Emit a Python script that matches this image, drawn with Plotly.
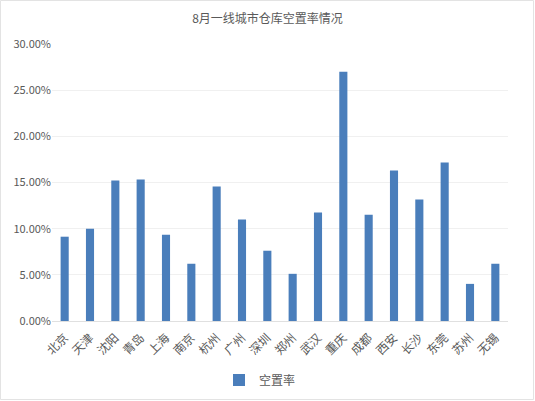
import plotly.graph_objects as go

cities = ["北京", "天津", "沈阳", "青岛", "上海", "南京", "杭州", "广州", "深圳",
          "郑州", "武汉", "重庆", "成都", "西安", "长沙", "东莞", "苏州", "无锡"]
vacancy = [0.0913, 0.1000, 0.1522, 0.1533, 0.0935, 0.0620, 0.1457, 0.1098, 0.0761,
           0.0511, 0.1174, 0.2700, 0.1152, 0.1630, 0.1315, 0.1717, 0.0402, 0.0620]
y_ticks = [0, 0.05, 0.10, 0.15, 0.20, 0.25, 0.30]

W, H = 535, 401
ml, mr, mt, mb = 52, 27, 44, 80
pw, ph = W - ml - mr, H - mt - mb

font_family = "Noto Sans CJK SC, Noto Sans, sans-serif"
text_grey = "#595959"

fig = go.Figure(go.Bar(
    x=cities,
    y=vacancy,
    name="空置率",
    marker=dict(color="#4a7ebb", line=dict(width=0)),
    showlegend=True,
))

fig.update_layout(
    width=W, height=H,
    autosize=False,
    margin=dict(l=ml, r=mr, t=mt, b=mb, autoexpand=False),
    paper_bgcolor="white",
    plot_bgcolor="white",
    font=dict(family=font_family, color=text_grey, size=11),
    title=dict(text="8月一线城市仓库空置率情况", x=0.5, xanchor="center",
               y=1 - 19 / H, yanchor="middle",
               font=dict(size=12, color=text_grey)),
    bargap=0.68,
    # plotly's legend swatch takes more room than Excel's, so nudge it left
    legend=dict(orientation="h", x=0.5 - 20 / pw, xanchor="center",
                y=-(380 - (H - mb)) / ph, yanchor="middle",
                itemwidth=30,
                font=dict(size=12, color=text_grey)),
    shapes=[dict(type="rect", xref="paper", yref="paper",
                 x0=-(ml - 0.5) / pw, x1=1 + (mr - 1.5) / pw,
                 y0=-(mb - 1.5) / ph, y1=1 + (mt - 0.5) / ph,
                 line=dict(color="#e3e3e3", width=1))],
)

fig.update_xaxes(
    automargin=False,
    tickangle=-45,
    tickfont=dict(size=12, color=text_grey),
    showline=True, linecolor="#e0e0e0", linewidth=1,
    ticks="outside", ticklen=4, tickcolor="rgba(0,0,0,0)",
)
fig.update_yaxes(
    automargin=False,
    range=[0, 0.30],
    tickvals=y_ticks,
    tickformat=".2%",
    tickfont=dict(size=11, color=text_grey),
    showgrid=True, gridcolor="#f0f0f0", gridwidth=1,
    zeroline=False,
    ticks="",
)

# drop the default 8px body margin and any scrollbars so the chart sits at 0,0
page_fix = ("document.documentElement.style.overflow='hidden';"
            "document.body.style.margin='0';"
            "document.body.style.overflow='hidden';")
fig.write_html("out.html", post_script=page_fix,
               config={"displayModeBar": False})
